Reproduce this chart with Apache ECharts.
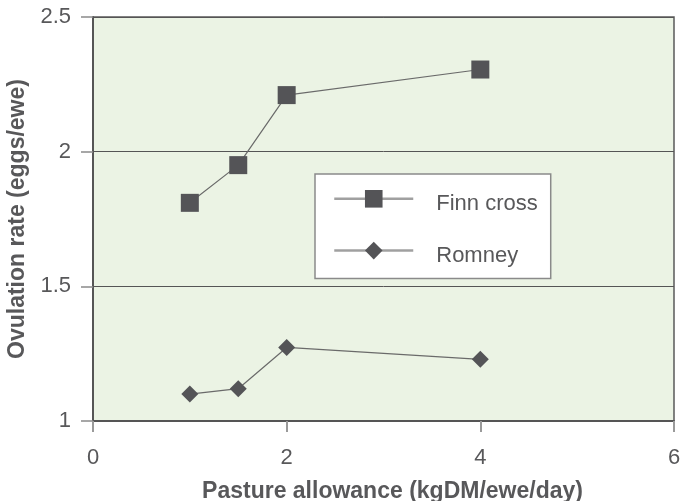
<!DOCTYPE html>
<html>
<head>
<meta charset="utf-8">
<script src="https://cdn.jsdelivr.net/npm/echarts@6/dist/echarts.min.js"></script>
<style>
html,body{margin:0;padding:0;background:#fff;}
#chart{width:682px;height:501px;}
</style>
</head>
<body>
<div id="chart"></div>
<script>
const pasture = [1, 1.5, 2, 4];
const finnCross = [1.81, 1.95, 2.21, 2.305];
const romney = [1.10, 1.12, 1.273, 1.229];
const seriesNames = ['Finn cross', 'Romney'];
const xTitle = 'Pasture allowance (kgDM/ewe/day)';
const yTitle = 'Ovulation rate (eggs/ewe)';

const toPairs = (xs, ys) => xs.map((x, i) => [x, ys[i]]);

const chart = echarts.init(document.getElementById('chart'));
const textColor = '#58585a';
const font = 'Liberation Sans, Arial, sans-serif';
chart.setOption({
  animation: false,
  grid: {
    left: 93, right: 8, top: 17, bottom: 80,
    outerBoundsMode: 'none',
    containLabel: false,
    show: true,
    backgroundColor: '#ebf3e4',
    borderColor: '#5a5a5a',
    borderWidth: 1.5
  },
  legend: {
    orient: 'vertical',
    left: 315,
    top: 174,
    backgroundColor: '#ffffff',
    borderColor: '#8a8a8a',
    borderWidth: 1.5,
    padding: [16, 13, 12, 18],
    itemWidth: 79,
    itemHeight: 22,
    itemGap: 27,
    lineStyle: { color: '#a0a0a0', width: 2.5 },
    formatter: '{t|{name}}',
    textStyle: {
      color: textColor, fontSize: 22, fontFamily: font,
      rich: { t: { color: textColor, fontSize: 22, fontFamily: font, padding: [10, 0, 0, 18] } }
    },
    data: seriesNames
  },
  xAxis: {
    type: 'value',
    min: 0, max: 6, interval: 2,
    name: xTitle,
    nameLocation: 'middle',
    nameGap: 59,
    nameTextStyle: { color: textColor, fontSize: 23, fontWeight: 'bold', fontFamily: font, padding: [0, 0, 0, 18] },
    axisLine: { show: true, lineStyle: { color: '#555555', width: 2 } },
    axisTick: { show: true, length: 11, lineStyle: { color: '#9a9a9a', width: 2 } },
    axisLabel: { color: textColor, fontSize: 22, fontFamily: font, margin: 26 },
    splitLine: { show: false }
  },
  yAxis: {
    type: 'value',
    min: 1, max: 2.5, interval: 0.5,
    name: yTitle,
    nameLocation: 'middle',
    nameGap: 60,
    nameRotate: 90,
    nameTextStyle: { color: textColor, fontSize: 23, fontWeight: 'bold', fontFamily: font },
    axisLine: { show: true, lineStyle: { color: '#555555', width: 2 } },
    axisTick: { show: true, length: 12, lineStyle: { color: '#8a8a8a', width: 1.5 } },
    axisLabel: { color: textColor, fontSize: 22, fontFamily: font, margin: 22 },
    splitLine: { show: true, lineStyle: { color: '#555555', width: 1 } }
  },
  series: [
    {
      name: seriesNames[0],
      type: 'line',
      data: toPairs(pasture, finnCross),
      symbol: 'rect',
      symbolSize: 18,
      itemStyle: { color: '#545457' },
      lineStyle: { color: '#6a6a6a', width: 1.2 }
    },
    {
      name: seriesNames[1],
      type: 'line',
      data: toPairs(pasture, romney),
      symbol: 'diamond',
      symbolSize: 17,
      itemStyle: { color: '#545457' },
      lineStyle: { color: '#6a6a6a', width: 1.2 }
    }
  ]
});
</script>
</body>
</html>
